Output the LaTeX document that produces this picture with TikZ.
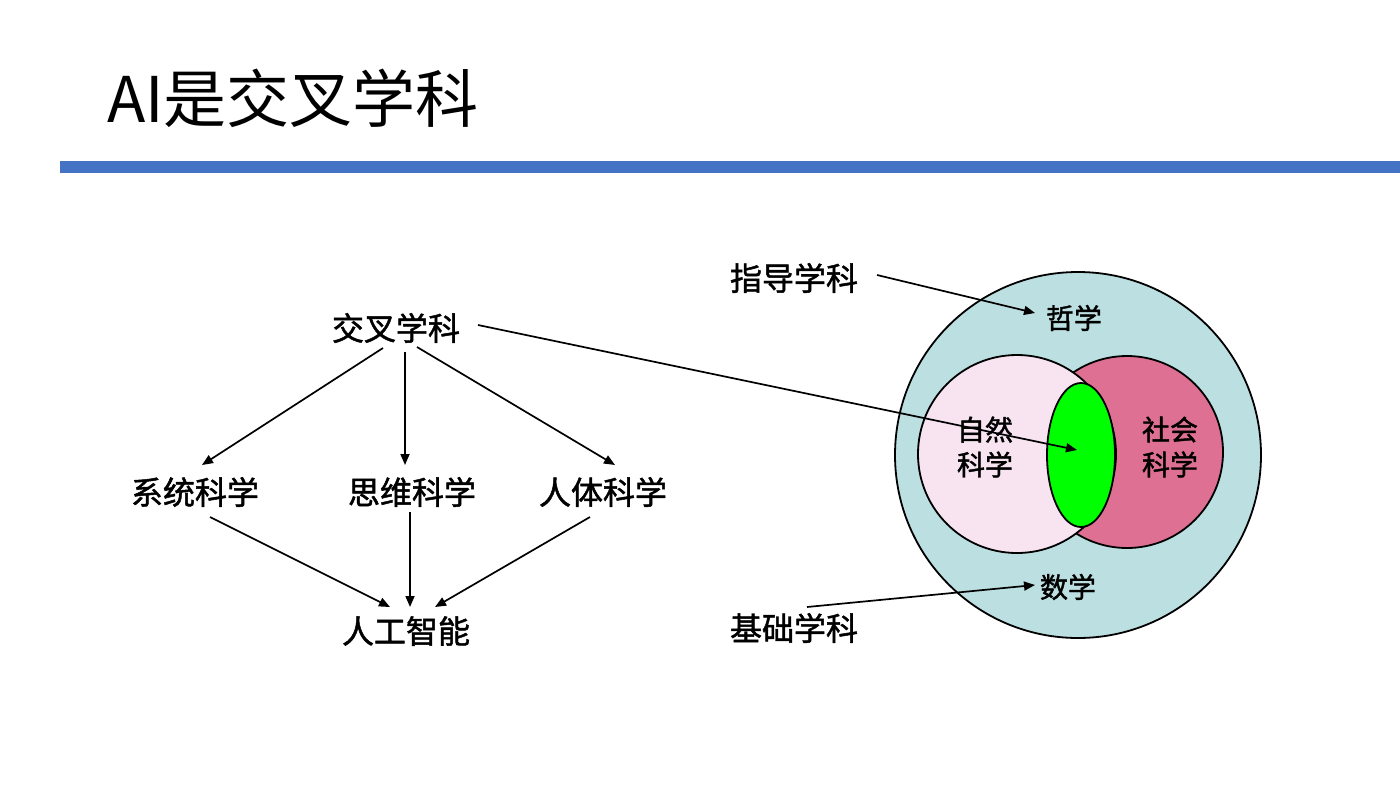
\documentclass[tikz,border=0pt]{standalone}
\usepackage{fontspec}
\setmainfont{Noto Sans CJK SC}
\newfontfamily\lblfont[FakeBold=1.5]{Noto Sans CJK SC}
\usetikzlibrary{arrows.meta,calc,shapes.geometric}
\definecolor{barblue}{HTML}{4472C4}
\definecolor{outerfill}{HTML}{BCDFE2}
\definecolor{natfill}{HTML}{F7E4F0}
\definecolor{socfill}{HTML}{DE7093}
\definecolor{midfill}{HTML}{00FF00}
\begin{document}
\begin{tikzpicture}[x=1pt,y=-1pt,
  lbl/.style={font=\lblfont\fontsize{32}{38}\selectfont, inner sep=0pt},
  vlbl/.style={font=\lblfont\fontsize{28}{35}\selectfont, inner sep=0pt, align=center},
  arr/.style={-{Triangle[length=11pt,width=9pt]}, line width=1.7pt},
  ring/.style={circle, draw=black, line width=1.8pt, inner sep=0pt}]
\useasboundingbox (0,0) rectangle (1400,788);
% title and bar
\node[anchor=base west, inner sep=0pt, font=\fontsize{63}{70}\selectfont] (title) at (107,122) {AI是交叉学科};
\fill[barblue] (60,161) rectangle (1400,173);
% left diagram
\node[lbl] (jc) at (396,328) {交叉学科};
\node[lbl] (xt) at (195,492) {系统科学};
\node[lbl] (sw) at (412,492) {思维科学};
\node[lbl] (rt) at (603,492) {人体科学};
\node[lbl] (ai) at (406,631) {人工智能};
\draw[arr] ($(jc)+(-13,20)$) -- ($(xt)+(7,-27)$);
\draw[arr] ($(jc)+(9,24)$) -- ($(sw)+(-7,-27)$);
\draw[arr] ($(jc)+(21,19)$) -- ($(rt)+(12,-27)$);
\draw[arr] ($(xt)+(15,25)$) -- ($(ai)+(-16,-24)$);
\draw[arr] ($(sw)+(-2,20)$) -- ($(ai)+(4,-24)$);
\draw[arr] ($(rt)+(-13,25)$) -- ($(ai)+(29,-24)$);
% Venn diagram
\node[ring, fill=outerfill, minimum size=366pt] (outer) at (1078,455) {};
\node[ring, fill=socfill, minimum size=192pt] (soc) at (1127,452) {};
\node[ring, fill=natfill, minimum size=198pt] (nat) at (1017,454) {};
\node[ellipse, draw=black, line width=1.8pt, fill=midfill, inner sep=0pt, minimum width=68pt, minimum height=144pt] (mid) at (1081,455) {};
\node[vlbl] (natl) at (985,447) {自然\\科学};
\node[vlbl] (socl) at (1170,447) {社会\\科学};
\node[vlbl] (zx) at (1074,318) {哲学};
\node[vlbl] (sx) at (1068,587) {数学};
\node[lbl] (zd) at (794,278) {指导学科};
\node[lbl] (jx) at (794,628) {基础学科};
\draw[arr] ($(zd)+(83,-3)$) -- ($(zx)+(-39,-5)$);
\draw[arr] ($(jx)+(13,-21)$) -- ($(sx)+(-33,-2)$);
\draw[arr] ($(jc)+(82,-3)$) -- ($(mid)+(-4,-5)$);
\end{tikzpicture}
\end{document}
